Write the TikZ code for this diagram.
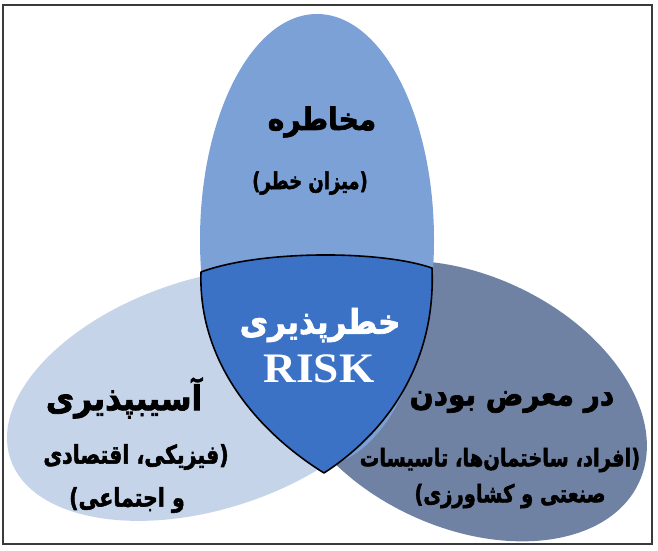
\documentclass[tikz,border=0pt]{standalone}
\usepackage{graphicx}
\usepackage{fontspec}
\TeXXeTstate=1
\newfontfamily\fafont[Script=Arabic, BoldFeatures={FakeBold=2.2}]{DejaVu Sans}
\newfontfamily\rkfont{Liberation Serif}
\newcommand{\talltext}[2]{\scalebox{1}[#1]{#2}}
\definecolor{topblue}{HTML}{7BA1D7}
\definecolor{lightblue}{HTML}{C6D4EA}
\definecolor{darkblue}{HTML}{6F82A4}
\definecolor{centerblue}{HTML}{3B72C6}
\definecolor{framegray}{HTML}{3A3A3A}
\tikzset{
  fatext/.style={font=\fafont\bfseries\fontsize{#1}{#1}\selectfont, text=black, inner sep=0pt},
  risktext/.style={font=\rkfont\bfseries\fontsize{42}{46}\selectfont, text=white, inner sep=0pt},
  shield/.style={fill=centerblue, draw=black, line width=1.6pt, line join=round},
  frameline/.style={draw=framegray, line width=1.5pt}
}
\begin{document}
\begin{tikzpicture}[x=1pt,y=1pt]
\useasboundingbox (0,0) rectangle (658,-550);
\fill[white] (0,0) rectangle (658,-550);
\begin{scope}
  \clip (3,-5) rectangle (652,-544);
  \fill[darkblue, rotate around={-25:(464,-401)}] (464,-401) ellipse [x radius=193, y radius=126];
  \fill[topblue] (317,-240) ellipse [x radius=117, y radius=226];
  \fill[lightblue, rotate around={18:(208,-394)}] (208,-394) ellipse [x radius=208, y radius=115];
\end{scope}
\path[shield] (201,-272) .. controls (260,-250) and (380,-250) .. (432,-268)
  .. controls (436,-360) and (390,-430) .. (324,-473)
  .. controls (255,-430) and (198,-360) .. (201,-272) -- cycle;
\draw[frameline] (3,-5) rectangle (652,-544);
\node[fatext=28] (mokh) at (322,-122) {\talltext{1.1}{\beginR مخاطره\endR}};
\node[fatext=18] (mizan) at (310,-183) {\talltext{1.3}{\beginR (میزان خطر)\endR}};
\node[fatext=31, text=white] (khatar) at (320,-325) {\talltext{1.1}{\beginR خطرپذیری\endR}};
\node[risktext] (risk) at (319,-369) {\scalebox{1.08}[1]{RISK}};
\node[fatext=31] (asib) at (124,-398) {\talltext{1.1}{\beginR آسیبپذیری\endR}};
\node[fatext=20.5] (asib1) at (136,-457) {\talltext{1.25}{\beginR (فیزیکی، اقتصادی\endR}};
\node[fatext=20.5] (asib2) at (127,-500) {\talltext{1.25}{\beginR و اجتماعی)\endR}};
\node[fatext=28] (dar) at (512,-402) {\talltext{1.1}{\beginR در معرض بودن\endR}};
\node[fatext=19.5] (afrad) at (500,-460) {\talltext{1.25}{\beginR (افراد، ساختمان‌ها، تاسیسات\endR}};
\node[fatext=19.5] (sanati) at (510,-496) {\talltext{1.25}{\beginR صنعتی و کشاورزی)\endR}};
\end{tikzpicture}
\end{document}
